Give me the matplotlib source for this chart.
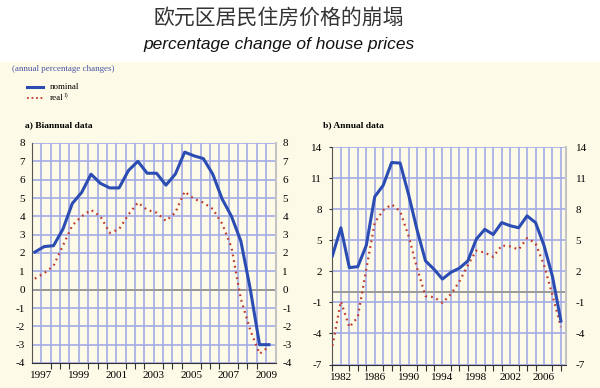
import matplotlib
matplotlib.use("Agg")
import matplotlib.pyplot as plt
from matplotlib.lines import Line2D
from matplotlib.patches import Rectangle
import numpy as np

# a) biannual data, first half 1997 onwards
bi_nominal = [2.05, 2.35, 2.4, 3.3, 4.7, 5.3, 6.3, 5.8, 5.55, 5.55, 6.5, 7.0, 6.35,
              6.35, 5.7, 6.3, 7.5, 7.3, 7.15, 6.3, 4.95, 4.0, 2.65, 0.05, -3.0, -3.0]
bi_real = [0.6, 0.9, 1.3, 2.4, 3.5, 4.0, 4.35, 4.0, 3.1, 3.3, 4.1, 4.75, 4.35,
           4.2, 3.75, 4.2, 5.35, 4.95, 4.75, 4.4, 3.6, 2.3, -0.5, -2.2, -3.5, -3.1]
bi_labels = ["1997", "1999", "2001", "2003", "2005", "2007", "2009"]

# b) annual data 1981-2008
years = list(range(1981, 2009))
an_nominal = [3.5, 6.2, 2.35, 2.45, 4.5, 9.2, 10.3, 12.5, 12.45, 9.4, 6.0, 3.0, 2.2, 1.25,
              1.9, 2.3, 3.0, 5.1, 6.05, 5.55, 6.7, 6.4, 6.2, 7.35, 6.7, 4.5, 1.5, -2.8]
an_real = [-5.2, -0.9, -3.4, -2.4, 2.2, 6.7, 7.9, 8.45, 7.8, 5.4, 2.3, -0.4, -0.5, -1.05,
           -0.2, 1.0, 2.6, 4.0, 3.8, 3.4, 4.5, 4.4, 4.1, 5.2, 4.7, 2.6, -0.3, -3.4]
an_labels = ["1982", "1986", "1990", "1994", "1998", "2002", "2006"]

BLUE = "#2b4cb3"
RED = "#c0392b"
GRID = "#a3abe6"
CREAM = "#fdfbe7"
SERIF = "Liberation Serif"

plt.rcParams["axes.unicode_minus"] = False

fig = plt.figure(figsize=(6, 3.88), dpi=100)
fig.patch.set_facecolor("white")
fig.add_artist(Rectangle((0, 0), 1, 1 - 62 / 388, transform=fig.transFigure,
                         facecolor=CREAM, edgecolor="none", zorder=-10))

fig.text(279 / 600, 1 - 18 / 388, "欧元区居民住房价格的崩塌", ha="center", va="center",
         fontsize=15, color="#333333", weight="light",
         family=["Noto Sans CJK SC", "DejaVu Sans"])
fig.text(279 / 600, 1 - 45 / 388, "percentage change of house prices", ha="center",
         va="center", fontsize=12.5, style="italic", color="#111111",
         family="Liberation Sans")

fig.text(12 / 600, 1 - 69 / 388, "(annual percentage changes)", ha="left", va="center",
         fontsize=6.5, color="#4a56a6", family=SERIF)
fig.add_artist(Line2D([27 / 600, 43 / 600], [1 - 87 / 388] * 2, color=BLUE, lw=2.2,
                      transform=fig.transFigure))
fig.text(50 / 600, 1 - 87 / 388, "nominal", ha="left", va="center", fontsize=6.5, family=SERIF)
fig.add_artist(Line2D([27 / 600, 43 / 600], [1 - 98 / 388] * 2, color=RED, lw=1.3,
                      ls=(0, (1, 1.5)), transform=fig.transFigure))
fig.text(50 / 600, 1 - 98 / 388, "real", ha="left", va="center", fontsize=6.5, family=SERIF)
fig.text(63.3 / 600, 1 - 95 / 388, "1)", ha="left", va="center", fontsize=4, family=SERIF)

fig.text(25 / 600, 1 - 125 / 388, "a) Biannual data", ha="left", va="center",
         fontsize=6.8, weight="bold", family=SERIF)
fig.text(323 / 600, 1 - 125 / 388, "b) Annual data", ha="left", va="center",
         fontsize=6.8, weight="bold", family=SERIF)


def style_axes(ax, ymin, ymax, ystep):
    ax.set_facecolor(CREAM)
    ax.set_ylim(ymin, ymax)
    yt = np.arange(ymin, ymax + 0.1, ystep)
    ax.set_yticks(yt)
    ax.set_yticklabels([f"{v:g}" for v in yt])
    for v in yt:
        ax.axhline(v, color=GRID, lw=1.2, zorder=0)
    ax.axhline(0, color="#9a9a9a", lw=1.4, zorder=1)
    ax.spines["top"].set_visible(False)
    ax.spines["right"].set_color("#c4c4c4")
    ax.spines["right"].set_linewidth(1.5)
    ax.spines["left"].set_color("#555555")
    ax.spines["bottom"].set_color("#333333")
    ax.tick_params(axis="y", which="both", labelsize=8, length=0, pad=5,
                   labelleft=True, labelright=True, right=False)
    ax.tick_params(axis="x", which="major", length=0, labelsize=8, pad=6)
    ax.tick_params(axis="x", which="minor", length=4, width=0.8, color="#333333")
    for lab in ax.get_xticklabels() + ax.get_yticklabels():
        lab.set_family(SERIF)


# left panel
ax1 = fig.add_axes([32 / 600, 1 - 363 / 388, 243.5 / 600, 220 / 388])
style_axes(ax1, -4, 8, 1)
x1 = 1997.15 + 0.5 * np.arange(len(bi_nominal))
ax1.set_xlim(1997, 2010)
grid1 = np.arange(1997.5, 2010, 0.5)
for g in grid1:
    ax1.axvline(g, color=GRID, lw=1.2, zorder=0)
ax1.set_xticks(grid1, minor=True)
ax1.set_xticks([int(l) + 0.5 for l in bi_labels])
ax1.set_xticklabels(bi_labels, family=SERIF)
ax1.plot(x1, bi_real, color=RED, lw=1.6, ls=(0, (0.8, 1.8)), zorder=3)
ax1.plot(x1, bi_nominal, color=BLUE, lw=2.2, zorder=4)

# right panel
ax2 = fig.add_axes([332 / 600, 1 - 364.5 / 388, 234 / 600, 217.5 / 388])
style_axes(ax2, -7, 14, 3)
ax2.tick_params(axis="y", which="major", length=2, left=True, color="#333333")
ax2.set_xlim(1980.95, 2008.6)
for g in years[1:]:
    ax2.axvline(g, color=GRID, lw=1.2, zorder=0)
ax2.set_xticks(years, minor=True)
ax2.set_xticks([int(l) for l in an_labels])
ax2.set_xticklabels(an_labels, family=SERIF)
ax2.plot(years, an_real, color=RED, lw=1.6, ls=(0, (0.8, 1.8)), zorder=3)
ax2.plot(years, an_nominal, color=BLUE, lw=2.2, zorder=4)

fig.savefig("out.png", dpi=100, facecolor=fig.get_facecolor())
